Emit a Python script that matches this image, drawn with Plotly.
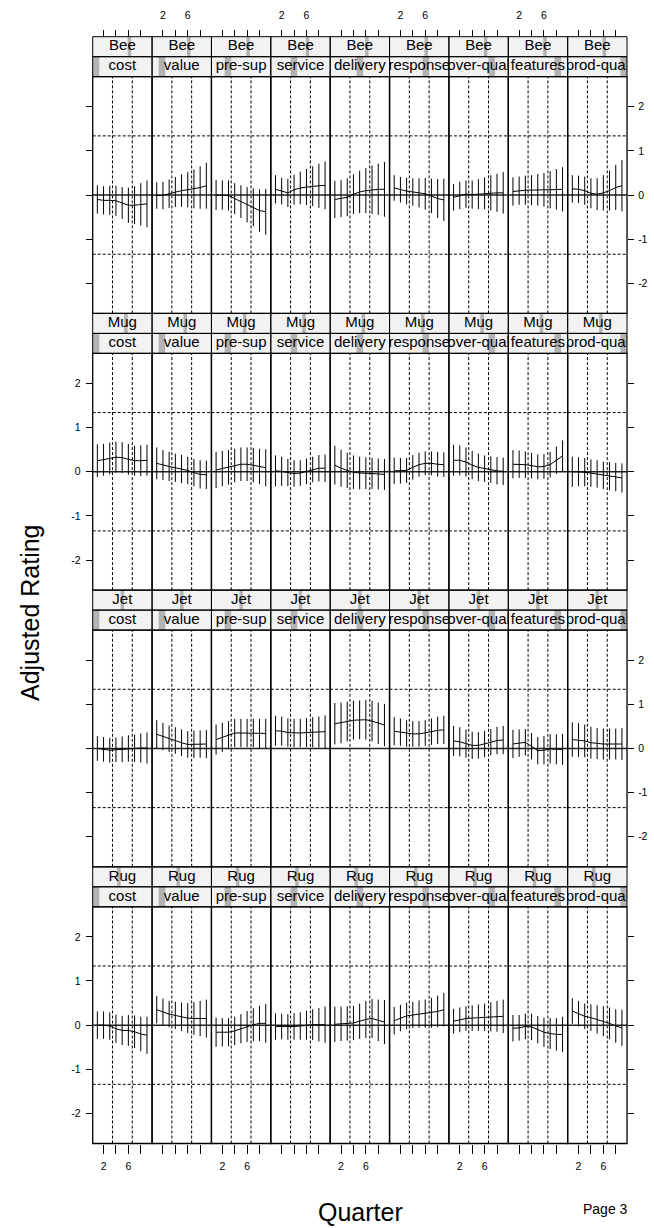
import plotly.graph_objects as go

# ---------------- data ----------------
QUARTERS = [1, 2, 3, 4, 5, 6, 7, 8, 9]
BRANDS = ["Bee", "Mug", "Jet", "Rug"]            # panel rows, top to bottom
BRAND_LEVEL = [10, 9, 8, 7]                       # position of the brand among all levels
N_BRAND_LEVELS = 17
VARIABLES = ["cost", "value", "pre-sup", "service", "delivery",
             "response", "over-qual", "features", "prod-qual"]
X_TICKS = [2, 4, 6, 8]
X_TICK_TEXT = ["2", "", "6", ""]
Y_TICKS = [-2, -1, 0, 1, 2]
Y_TICK_TEXT = ["-2", "-1", "0", "1", "2"]

BEE_MEAN = [
    [-0.10, -0.12, -0.12, -0.13, -0.18, -0.23, -0.23, -0.21, -0.20],
    [-0.01, -0.01, 0.03, 0.07, 0.10, 0.12, 0.14, 0.17, 0.21],
    [0.00, 0.00, -0.01, -0.08, -0.15, -0.22, -0.28, -0.35, -0.38],
    [0.13, 0.09, 0.05, 0.12, 0.16, 0.18, 0.20, 0.21, 0.22],
    [-0.10, -0.08, -0.05, 0.02, 0.07, 0.10, 0.12, 0.13, 0.13],
    [0.16, 0.12, 0.09, 0.07, 0.05, 0.03, -0.02, -0.08, -0.11],
    [-0.05, -0.01, 0.02, 0.01, 0.02, 0.04, 0.05, 0.05, 0.05],
    [0.08, 0.10, 0.11, 0.11, 0.12, 0.12, 0.12, 0.13, 0.13],
    [0.14, 0.13, 0.10, 0.04, 0.02, 0.05, 0.10, 0.17, 0.21],
]
BEE_CI = [
    [0.32, 0.32, 0.33, 0.34, 0.36, 0.40, 0.43, 0.48, 0.53],
    [0.30, 0.31, 0.32, 0.34, 0.37, 0.40, 0.44, 0.48, 0.52],
    [0.34, 0.33, 0.34, 0.35, 0.37, 0.40, 0.43, 0.48, 0.52],
    [0.32, 0.30, 0.32, 0.34, 0.37, 0.41, 0.45, 0.50, 0.54],
    [0.42, 0.42, 0.43, 0.45, 0.48, 0.51, 0.55, 0.58, 0.62],
    [0.29, 0.29, 0.30, 0.31, 0.33, 0.36, 0.39, 0.44, 0.48],
    [0.30, 0.31, 0.31, 0.32, 0.34, 0.36, 0.40, 0.43, 0.47],
    [0.32, 0.32, 0.33, 0.34, 0.36, 0.38, 0.42, 0.46, 0.50],
    [0.31, 0.31, 0.32, 0.34, 0.36, 0.40, 0.45, 0.51, 0.58],
]
MUG_MEAN = [
    [0.25, 0.27, 0.30, 0.33, 0.32, 0.28, 0.25, 0.25, 0.26],
    [0.19, 0.15, 0.12, 0.09, 0.06, 0.03, -0.02, -0.06, -0.07],
    [0.04, 0.07, 0.10, 0.14, 0.17, 0.17, 0.15, 0.12, 0.09],
    [0.02, 0.01, -0.02, -0.04, -0.03, 0.01, 0.05, 0.08, 0.08],
    [0.15, 0.08, 0.03, -0.01, -0.03, -0.03, -0.04, -0.05, -0.06],
    [0.02, 0.02, 0.03, 0.10, 0.16, 0.19, 0.19, 0.17, 0.16],
    [0.26, 0.26, 0.22, 0.15, 0.10, 0.07, 0.05, 0.02, 0.01],
    [0.17, 0.17, 0.16, 0.14, 0.11, 0.12, 0.16, 0.26, 0.36],
    [0.00, 0.00, -0.01, -0.03, -0.05, -0.08, -0.10, -0.12, -0.14],
]
MUG_CI = [
    [0.37, 0.36, 0.36, 0.35, 0.35, 0.35, 0.34, 0.35, 0.35],
    [0.36, 0.34, 0.33, 0.32, 0.32, 0.31, 0.31, 0.32, 0.32],
    [0.41, 0.40, 0.39, 0.38, 0.38, 0.38, 0.39, 0.40, 0.42],
    [0.35, 0.33, 0.31, 0.30, 0.29, 0.29, 0.29, 0.30, 0.31],
    [0.44, 0.42, 0.40, 0.38, 0.37, 0.36, 0.35, 0.35, 0.35],
    [0.30, 0.29, 0.28, 0.28, 0.27, 0.27, 0.27, 0.28, 0.28],
    [0.35, 0.34, 0.33, 0.32, 0.31, 0.30, 0.30, 0.31, 0.31],
    [0.32, 0.31, 0.30, 0.29, 0.28, 0.28, 0.29, 0.31, 0.35],
    [0.34, 0.33, 0.32, 0.31, 0.31, 0.31, 0.32, 0.32, 0.33],
]
JET_MEAN = [
    [0.00, -0.02, -0.04, -0.03, -0.02, 0.00, 0.00, 0.01, 0.01],
    [0.32, 0.27, 0.22, 0.18, 0.13, 0.09, 0.09, 0.10, 0.10],
    [0.20, 0.25, 0.30, 0.35, 0.35, 0.35, 0.35, 0.34, 0.34],
    [0.40, 0.39, 0.36, 0.35, 0.35, 0.36, 0.37, 0.37, 0.38],
    [0.56, 0.58, 0.61, 0.64, 0.65, 0.65, 0.62, 0.57, 0.53],
    [0.39, 0.37, 0.34, 0.33, 0.33, 0.35, 0.38, 0.41, 0.42],
    [0.17, 0.15, 0.11, 0.07, 0.07, 0.10, 0.14, 0.18, 0.19],
    [0.10, 0.12, 0.14, 0.05, -0.05, -0.04, -0.01, -0.02, -0.02],
    [0.20, 0.19, 0.17, 0.13, 0.11, 0.10, 0.10, 0.10, 0.10],
]
JET_CI = [
    [0.28, 0.28, 0.28, 0.28, 0.29, 0.30, 0.31, 0.33, 0.35],
    [0.32, 0.31, 0.30, 0.30, 0.30, 0.30, 0.31, 0.31, 0.32],
    [0.34, 0.33, 0.32, 0.32, 0.32, 0.32, 0.32, 0.33, 0.33],
    [0.34, 0.33, 0.32, 0.32, 0.32, 0.33, 0.34, 0.35, 0.37],
    [0.47, 0.46, 0.45, 0.44, 0.44, 0.45, 0.46, 0.47, 0.48],
    [0.32, 0.31, 0.30, 0.29, 0.29, 0.29, 0.30, 0.31, 0.32],
    [0.34, 0.33, 0.32, 0.31, 0.30, 0.30, 0.30, 0.31, 0.32],
    [0.32, 0.31, 0.30, 0.30, 0.31, 0.32, 0.33, 0.34, 0.35],
    [0.39, 0.38, 0.37, 0.36, 0.35, 0.35, 0.35, 0.35, 0.36],
]
RUG_MEAN = [
    [0.00, 0.00, -0.02, -0.08, -0.12, -0.12, -0.15, -0.20, -0.23],
    [0.35, 0.30, 0.25, 0.22, 0.19, 0.16, 0.15, 0.15, 0.15],
    [-0.16, -0.16, -0.16, -0.13, -0.08, -0.03, 0.01, 0.04, 0.04],
    [-0.03, -0.03, -0.04, -0.03, -0.02, 0.00, 0.01, 0.01, 0.01],
    [0.02, 0.03, 0.04, 0.05, 0.09, 0.13, 0.15, 0.11, 0.07],
    [0.10, 0.16, 0.21, 0.23, 0.25, 0.26, 0.28, 0.31, 0.35],
    [0.09, 0.12, 0.15, 0.16, 0.17, 0.18, 0.19, 0.20, 0.20],
    [-0.07, -0.06, -0.03, -0.04, -0.10, -0.16, -0.19, -0.21, -0.21],
    [0.32, 0.26, 0.20, 0.17, 0.13, 0.09, 0.04, -0.02, -0.06],
]
RUG_CI = [
    [0.31, 0.31, 0.31, 0.32, 0.33, 0.35, 0.37, 0.39, 0.42],
    [0.31, 0.30, 0.30, 0.31, 0.32, 0.34, 0.37, 0.40, 0.43],
    [0.33, 0.32, 0.32, 0.32, 0.33, 0.35, 0.37, 0.40, 0.44],
    [0.30, 0.29, 0.29, 0.30, 0.31, 0.33, 0.35, 0.38, 0.41],
    [0.40, 0.39, 0.39, 0.39, 0.40, 0.42, 0.44, 0.47, 0.50],
    [0.31, 0.30, 0.30, 0.30, 0.31, 0.32, 0.34, 0.36, 0.38],
    [0.28, 0.28, 0.28, 0.29, 0.30, 0.31, 0.33, 0.35, 0.38],
    [0.30, 0.29, 0.29, 0.30, 0.31, 0.33, 0.35, 0.37, 0.40],
    [0.29, 0.29, 0.29, 0.30, 0.32, 0.34, 0.36, 0.38, 0.41],
]
MEANS = [BEE_MEAN, MUG_MEAN, JET_MEAN, RUG_MEAN]
CIS = [BEE_CI, MUG_CI, JET_CI, RUG_CI]

# ---------------- layout geometry ----------------
W, H = 654, 1228
FONT = "Liberation Sans, Arial, Helvetica, sans-serif"
PANEL_LEFT = 92.7
PANEL_W = 59.37
ROW_TOP0 = 76.7
ROW_PITCH = 276.7
PANEL_H = 236.7
STRIP_H = 20.0
XR = [0.25, 9.82]
YR = [-2.68, 2.68]
STRIP_BG = "#f2f2f2"
STRIP_LEVEL = "#b3b3b3"
TICKFONT = dict(family=FONT, size=10.5, color="black")

fig = go.Figure()
layout = {}
shapes = []
NP = len(BRANDS) * len(VARIABLES)

for r, brand in enumerate(BRANDS):
    top = ROW_TOP0 + r * ROW_PITCH
    py0 = 1 - (top + PANEL_H) / H
    py1 = 1 - top / H
    sy0 = py1
    sy1 = 1 - (top - 2 * STRIP_H) / H
    for c, var in enumerate(VARIABLES):
        k = r * len(VARIABLES) + c
        n = k + 1
        s = NP + k + 1
        px0 = (PANEL_LEFT + c * PANEL_W) / W
        px1 = (PANEL_LEFT + (c + 1) * PANEL_W) / W
        xn = "x" if n == 1 else f"x{n}"
        yn = "y" if n == 1 else f"y{n}"
        xs, ys = f"x{s}", f"y{s}"

        # ----- panel axes -----
        xa = dict(domain=[px0, px1], range=XR, anchor=yn, showgrid=False,
                  zeroline=False, showline=False, fixedrange=True,
                  tickvals=X_TICKS, ticktext=X_TICK_TEXT, tickfont=TICKFONT)
        if r == len(BRANDS) - 1:
            xa.update(side="bottom", ticks="outside", ticklen=9, tickwidth=1,
                      tickcolor="black", showticklabels=(c % 2 == 0),
                      ticklabelstandoff=4)
        else:
            xa.update(ticks="", showticklabels=False)
        ya = dict(domain=[py0, py1], range=YR, anchor=xn, showgrid=False,
                  zeroline=False, showline=False, fixedrange=True,
                  tickvals=Y_TICKS, ticktext=Y_TICK_TEXT, tickfont=TICKFONT)
        if c == 0:
            ya.update(side="left", ticks="outside", ticklen=6, tickwidth=1,
                      tickcolor="black", showticklabels=(r % 2 == 1),
                      ticklabelstandoff=3)
        elif c == len(VARIABLES) - 1:
            ya.update(side="right", ticks="outside", ticklen=6, tickwidth=1,
                      tickcolor="black", showticklabels=(r % 2 == 0),
                      ticklabelstandoff=2)
        else:
            ya.update(ticks="", showticklabels=False)
        layout["xaxis" if n == 1 else f"xaxis{n}"] = xa
        layout["yaxis" if n == 1 else f"yaxis{n}"] = ya

        # ----- strip axes -----
        sxa = dict(domain=[px0, px1], range=XR, anchor=ys, showgrid=False,
                   zeroline=False, showline=False, fixedrange=True,
                   tickvals=X_TICKS, ticktext=X_TICK_TEXT, tickfont=TICKFONT)
        if r == 0:
            sxa.update(side="top", ticks="outside", ticklen=6, tickwidth=1,
                       tickcolor="black", showticklabels=(c % 2 == 1),
                       ticklabelstandoff=7)
        else:
            sxa.update(ticks="", showticklabels=False)
        sya = dict(domain=[sy0, sy1], range=[0, 2], anchor=xs, showgrid=False,
                   zeroline=False, showline=False, fixedrange=True,
                   showticklabels=False, ticks="")
        layout[f"xaxis{s}"] = sxa
        layout[f"yaxis{s}"] = sya

        # ----- data: mean line with interval bars -----
        fig.add_trace(go.Scatter(
            x=QUARTERS, y=MEANS[r][c], mode="lines",
            line=dict(color="black", width=1),
            error_y=dict(type="data", array=CIS[r][c], visible=True,
                         color="black", thickness=1, width=0),
            xaxis=xn, yaxis=yn, hoverinfo="skip", showlegend=False))

        # ----- strip text (clipped to strip) -----
        fig.add_trace(go.Scatter(
            x=[sum(XR) / 2, sum(XR) / 2], y=[1.5, 0.5], text=[brand, var],
            mode="text", textposition="middle center",
            textfont=dict(family=FONT, size=15, color="black"),
            cliponaxis=True, xaxis=xs, yaxis=ys, hoverinfo="skip",
            showlegend=False))

        # ----- strip decorations -----
        sxd, syd = f"x{s} domain", f"y{s} domain"
        shapes.append(dict(type="rect", xref=sxd, yref=syd, x0=0, x1=1, y0=0, y1=1,
                           fillcolor=STRIP_BG, line=dict(width=0), layer="below"))
        lvl = BRAND_LEVEL[r]
        shapes.append(dict(type="rect", xref=sxd, yref=syd,
                           x0=lvl / N_BRAND_LEVELS, x1=(lvl + 1) / N_BRAND_LEVELS,
                           y0=0.5, y1=1, fillcolor=STRIP_LEVEL, line=dict(width=0),
                           layer="below"))
        shapes.append(dict(type="rect", xref=sxd, yref=syd,
                           x0=c / len(VARIABLES), x1=(c + 1) / len(VARIABLES),
                           y0=0, y1=0.5, fillcolor=STRIP_LEVEL, line=dict(width=0),
                           layer="below"))
        for (a, b) in [(0, 0.5), (0.5, 1)]:
            shapes.append(dict(type="rect", xref=sxd, yref=syd, x0=0, x1=1,
                               y0=a, y1=b, line=dict(color="black", width=1),
                               fillcolor="rgba(0,0,0,0)", layer="above"))

        # ----- panel reference lines and frame -----
        pxd, pyd = f"{xn} domain", f"{yn} domain"
        for fx in (1 / 3, 2 / 3):
            shapes.append(dict(type="line", xref=pxd, yref=pyd, x0=fx, x1=fx,
                               y0=0, y1=1, line=dict(color="black", width=1,
                                                     dash="3px,2px"),
                               layer="below"))
        for fy in (0.25, 0.75):
            shapes.append(dict(type="line", xref=pxd, yref=pyd, x0=0, x1=1,
                               y0=fy, y1=fy, line=dict(color="black", width=1,
                                                       dash="3px,2px"),
                               layer="below"))
        shapes.append(dict(type="line", xref=pxd, yref=yn, x0=0, x1=1, y0=0, y1=0,
                           line=dict(color="#222222", width=1.5), layer="below"))
        shapes.append(dict(type="rect", xref=pxd, yref=pyd, x0=0, x1=1, y0=0, y1=1,
                           line=dict(color="black", width=1.3),
                           fillcolor="rgba(0,0,0,0)", layer="above"))

annotations = [
    dict(text="Adjusted Rating", x=30 / W, y=1 - 613 / H, xref="paper", yref="paper",
         textangle=-90, showarrow=False, xanchor="center", yanchor="middle",
         font=dict(family=FONT, size=25, color="black")),
    dict(text="Quarter", x=360 / W, y=1 - 1212 / H, xref="paper", yref="paper",
         showarrow=False, xanchor="center", yanchor="middle",
         font=dict(family=FONT, size=25, color="black")),
    dict(text="Page 3", x=605 / W, y=1 - 1209 / H, xref="paper", yref="paper",
         showarrow=False, xanchor="center", yanchor="middle",
         font=dict(family=FONT, size=14, color="black")),
]

fig.update_layout(
    width=W, height=H, margin=dict(l=0, r=0, t=0, b=0, pad=0),
    paper_bgcolor="white", plot_bgcolor="white", showlegend=False,
    font=dict(family=FONT, color="black"),
    shapes=shapes, annotations=annotations, **layout)

fig.write_html("out.html")
